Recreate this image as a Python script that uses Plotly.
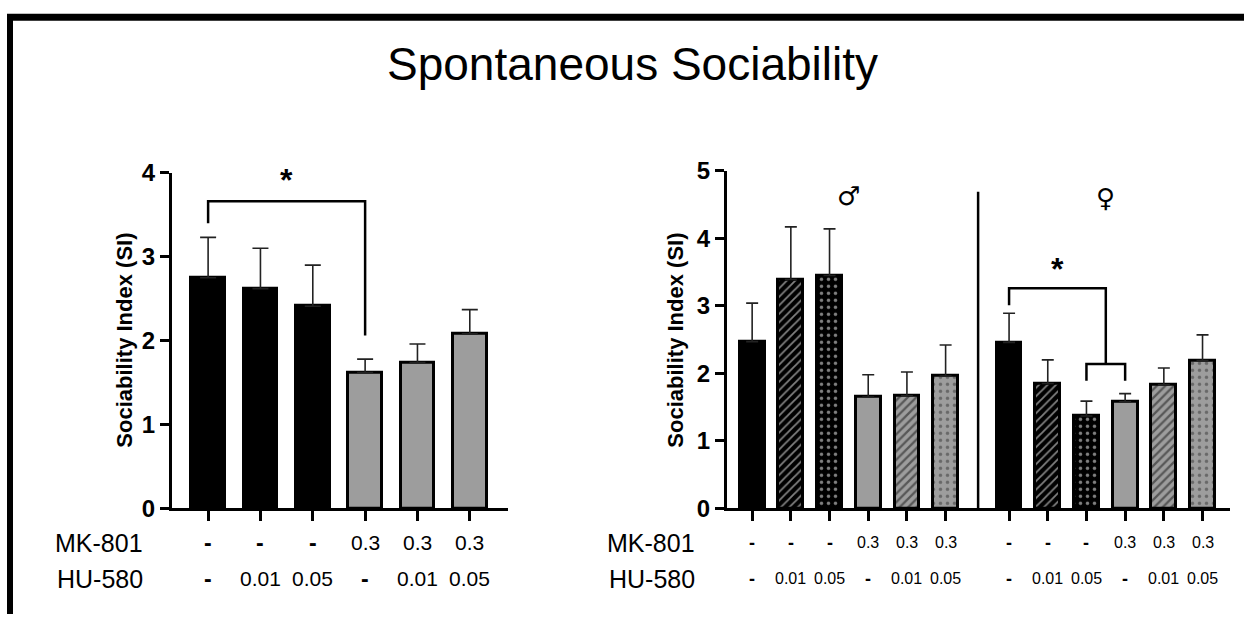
import plotly.graph_objects as go

# ---- data ----
groups = ["Veh", "HU 0.01", "HU 0.05", "MK", "MK+HU 0.01", "MK+HU 0.05"]
mk_labels = ["-", "-", "-", "0.3", "0.3", "0.3"]
hu_labels = ["-", "0.01", "0.05", "-", "0.01", "0.05"]

# pooled sexes
all_mean = [2.75, 2.62, 2.41, 1.62, 1.74, 2.08]
all_sem = [0.48, 0.48, 0.49, 0.16, 0.22, 0.29]

# males
male_mean = [2.47, 3.39, 3.45, 1.65, 1.67, 1.96]
male_sem = [0.57, 0.78, 0.69, 0.33, 0.35, 0.46]

# females
female_mean = [2.46, 1.85, 1.37, 1.58, 1.83, 2.19]
female_sem = [0.43, 0.35, 0.22, 0.12, 0.25, 0.38]

GRAY = "#9d9d9d"
BLACK = "#000000"
FONT = "Liberation Sans"

# fill per group: (background, pattern shape, pattern colour, solidity)
styles = [
    (BLACK, "", None, 0),
    (BLACK, "/", "#ffffff", 0.3),
    (BLACK, ".", "#ffffff", 0.2),
    (GRAY, "", None, 0),
    (GRAY, "/", "#111111", 0.38),
    (GRAY, ".", "#333333", 0.2),
]

W, H = 1244, 627
TOP, SPAN = 15, 597  # vertical placement of the drawing area on the page


def py(px):
    """paper y for a page row measured from the top"""
    return 1 - (px - TOP) / SPAN


def px_(x):
    return x / W


fig = go.Figure()


def add_bars(xpos, means, sems, xaxis, yaxis, use_patterns, cap):
    for i, (x, m, s) in enumerate(zip(xpos, means, sems)):
        bg, shape, fg, solid = styles[i]
        if not use_patterns:
            shape = ""
        marker = dict(color=bg, line=dict(color=BLACK, width=3))
        if shape:
            marker["pattern"] = dict(
                shape=shape, bgcolor=bg, fgcolor=fg,
                size=6 if shape == "/" else 7,
                solidity=solid, fillmode="overlay",
            )
        fig.add_trace(go.Bar(
            x=[x], y=[m], width=0.64, marker=marker,
            error_y=dict(type="data", symmetric=False, array=[s], arrayminus=[0],
                         color="#222222", thickness=1.6, width=cap),
            xaxis=xaxis, yaxis=yaxis, showlegend=False, hoverinfo="skip",
        ))


left_x = list(range(6))
male_x = list(range(6))
female_x = [6.64 + i for i in range(6)]

add_bars(left_x, all_mean, all_sem, "x", "y", False, 8)
add_bars(male_x, male_mean, male_sem, "x2", "y2", True, 6)
add_bars(female_x, female_mean, female_sem, "x2", "y2", True, 6)

axis_common = dict(showline=True, linecolor=BLACK, linewidth=3, ticks="outside",
                   tickcolor=BLACK, tickwidth=3, showgrid=False, zeroline=False)
tick_font = dict(family=FONT, size=24, color=BLACK, weight="bold")

fig.update_layout(
    width=W, height=H, autosize=False, margin=dict(l=0, r=0, t=0, b=0),
    paper_bgcolor="white", plot_bgcolor="white", bargap=0,
    xaxis=dict(domain=[px_(172), px_(508)], range=[-0.69, 5.73], tickvals=left_x,
               showticklabels=False, ticklen=10, anchor="y", **axis_common),
    yaxis=dict(domain=[py(507), py(173)], range=[0, 4], tickvals=[0, 1, 2, 3, 4],
               ticklen=9, anchor="x", tickfont=tick_font, **axis_common),
    xaxis2=dict(domain=[px_(727), px_(1230)], range=[-0.65, 12.35],
                tickvals=male_x + female_x, showticklabels=False, ticklen=10,
                anchor="y2", **axis_common),
    yaxis2=dict(domain=[py(507), py(171)], range=[0, 5], tickvals=[0, 1, 2, 3, 4, 5],
                ticklen=9, anchor="x2", tickfont=tick_font, **axis_common),
)

ann = []


def text(t, x, y, xref="paper", yref="paper", size=20, bold=False, family=FONT,
         xanchor="center", angle=0):
    font = dict(family=family, size=size, color=BLACK)
    if bold:
        font["weight"] = "bold"
    ann.append(dict(text=t, x=x, y=y, xref=xref, yref=yref, showarrow=False,
                    xanchor=xanchor, yanchor="middle", textangle=angle, font=font))


text("Spontaneous Sociability", px_(632), py(65), size=46)
for xp in (px_(125), px_(676)):
    text("Sociability Index (SI)", xp, py(340), size=22, bold=True, angle=-90)

row_y = (py(541), py(577))
for label_x in (px_(145), px_(697)):
    for name, yy in zip(("MK-801", "HU-580"), row_y):
        text(name, label_x, yy, size=25, xanchor="right")


def table(xpos, xr, size):
    # dashes (no drug) are drawn heavier than the dose numbers
    for x, mk, hu in zip(xpos, mk_labels, hu_labels):
        for t, yy in ((mk, row_y[0]), (hu, row_y[1])):
            dash = t == "-"
            text(t, x, yy, xref=xr, size=size + 2 if dash else size, bold=dash)


table(left_x, "x", 21)
table(male_x, "x2", 16)
table(female_x, "x2", 16)

text("♂", 2.5, 4.62, "x2", "y2", size=26, family="DejaVu Sans")
text("♀", 9.14, 4.6, "x2", "y2", size=26, family="DejaVu Sans")
text("*", 1.5, 3.92, "x", "y", size=32, bold=True)
text("*", 7.9, 3.55, "x2", "y2", size=32, bold=True)
fig.update_layout(annotations=ann)

line = dict(color=BLACK, width=2.5)
shapes = [
    dict(type="path", xref="x", yref="y", line=line,
         path=f"M {left_x[0]},3.40 L {left_x[0]},3.66 L {left_x[3]},3.66 L {left_x[3]},2.06"),
    dict(type="path", xref="x2", yref="y2", line=line,
         path=f"M {female_x[0]},3.01 L {female_x[0]},3.26 L 9.14,3.26 L 9.14,2.14"),
    dict(type="path", xref="x2", yref="y2", line=line,
         path=f"M {female_x[2]},1.89 L {female_x[2]},2.14 L {female_x[3]},2.14 L {female_x[3]},1.89"),
    dict(type="line", xref="x2", yref="y2", x0=5.84, x1=5.84, y0=0, y1=4.69,
         line=dict(color=BLACK, width=2.5)),
    # outer frame (top and left edges)
    dict(type="line", xref="paper", yref="paper", x0=px_(7), x1=1, y0=1 - 3.5 / H,
         y1=1 - 3.5 / H, line=dict(color=BLACK, width=7)),
    dict(type="line", xref="paper", yref="paper", x0=px_(10), x1=px_(10), y0=0,
         y1=1, line=dict(color=BLACK, width=6)),
]
fig.update_layout(shapes=shapes)

fig.write_html("out.html", config={"responsive": False})
